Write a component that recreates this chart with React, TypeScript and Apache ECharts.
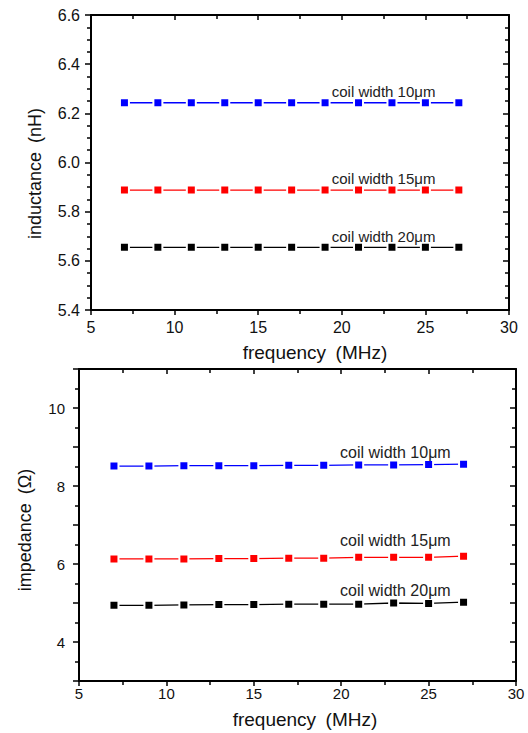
import React, { useEffect, useRef } from "react";
import * as echarts from "echarts";

const freq = [7, 9, 11, 13, 15, 17, 19, 21, 23, 25, 27];

const inductance10 = [6.243, 6.243, 6.243, 6.243, 6.243, 6.243, 6.243, 6.243, 6.243, 6.243, 6.243];
const inductance15 = [5.888, 5.888, 5.888, 5.888, 5.888, 5.888, 5.888, 5.888, 5.888, 5.888, 5.888];
const inductance20 = [5.655, 5.655, 5.655, 5.655, 5.655, 5.655, 5.655, 5.655, 5.655, 5.655, 5.655];

const impedance10 = [8.51, 8.51, 8.52, 8.52, 8.52, 8.53, 8.53, 8.54, 8.54, 8.55, 8.56];
const impedance15 = [6.13, 6.13, 6.13, 6.14, 6.14, 6.15, 6.15, 6.17, 6.17, 6.17, 6.2];
const impedance20 = [4.94, 4.94, 4.95, 4.96, 4.96, 4.97, 4.97, 4.97, 5.0, 4.99, 5.02];

const seriesNames = ["coil width 10\u03bcm", "coil width 15\u03bcm", "coil width 20\u03bcm"];
const seriesColors = ["#0000ff", "#ff0000", "#000000"];

// annotation anchors in data space
const topLabelAt = [
  [22.5, 6.288],
  [22.5, 5.936],
  [22.5, 5.701],
];
const bottomLabelAt = [
  [23.1, 8.85],
  [23.1, 6.61],
  [23.1, 5.32],
];

const FONT = "'Liberation Sans', Arial, sans-serif";

function xAxes(gridIndex: number, labelSize: number, labelMargin: number, nameGap: number, namePad: number) {
  const common = {
    gridIndex,
    type: "value",
    min: 5,
    max: 30,
    interval: 5,
    splitLine: { show: false },
    axisLine: { show: true, onZero: false, lineStyle: { color: "#000", width: 2 } },
    minorTick: { show: true, splitNumber: 2, length: 4, lineStyle: { color: "#000", width: 1.5 } },
  };
  return [
    {
      ...common,
      position: "bottom",
      name: "frequency\u2002(MHz)",
      nameLocation: "middle",
      nameGap,
      nameTextStyle: { fontFamily: FONT, fontSize: 19, color: "#111", padding: [0, 0, 0, namePad] },
      axisTick: { show: true, inside: false, length: 5, lineStyle: { color: "#000", width: 1.5 } },
      axisLabel: { show: true, fontFamily: FONT, fontSize: labelSize, color: "#111", margin: labelMargin },
    },
    {
      ...common,
      position: "top",
      axisTick: { show: true, inside: true, length: 5, lineStyle: { color: "#000", width: 1.5 } },
      axisLabel: { show: false },
    },
  ];
}

function yAxes(
  gridIndex: number,
  min: number,
  max: number,
  interval: number,
  splitNumber: number,
  name: string,
  nameGap: number,
  namePad: number,
  labelSize: number,
  labelMargin: number,
  formatter: (v: number) => string
) {
  const common = {
    gridIndex,
    type: "value",
    min,
    max,
    interval,
    splitLine: { show: false },
    axisLine: { show: true, onZero: false, lineStyle: { color: "#000", width: 2 } },
    minorTick: { show: true, splitNumber, length: 4, lineStyle: { color: "#000", width: 1.5 } },
  };
  return [
    {
      ...common,
      position: "left",
      name,
      nameLocation: "middle",
      nameGap,
      nameTextStyle: { fontFamily: FONT, fontSize: 18, color: "#111", padding: [0, namePad, 0, 0] },
      axisTick: { show: true, inside: false, length: 6, lineStyle: { color: "#000", width: 1.5 } },
      axisLabel: { show: true, fontFamily: FONT, fontSize: labelSize, color: "#111", margin: labelMargin, formatter },
    },
    {
      ...common,
      position: "right",
      axisTick: { show: true, inside: true, length: 6, lineStyle: { color: "#000", width: 1.5 } },
      axisLabel: { show: false },
    },
  ];
}

function makeSeries(
  values: number[],
  idx: number,
  xAxisIndex: number,
  yAxisIndex: number,
  labelAt: number[],
  labelSize: number
) {
  return {
    type: "line",
    name: seriesNames[idx],
    xAxisIndex,
    yAxisIndex,
    data: freq.map((f, i) => [f, values[i]]),
    symbol: "rect",
    symbolSize: 9,
    showAllSymbol: true,
    lineStyle: { color: seriesColors[idx], width: 1.3 },
    itemStyle: { color: seriesColors[idx], borderColor: "#ffffff", borderWidth: 2 },
    markPoint: {
      silent: true,
      symbol: "circle",
      symbolSize: 1,
      itemStyle: { color: "rgba(0,0,0,0)" },
      label: {
        show: true,
        position: "inside",
        formatter: "{b}",
        fontFamily: FONT,
        fontSize: labelSize,
        color: "#222",
      },
      data: [{ name: seriesNames[idx], coord: labelAt }],
    },
  };
}

export default function App() {
  const ref = useRef<HTMLDivElement>(null);
  useEffect(() => {
    if (!ref.current) return;
    const chart = echarts.init(ref.current, null, { renderer: "svg" });
    const option = {
      animation: false,
      backgroundColor: "#ffffff",
      grid: [
        { left: 91, top: 15, width: 418, height: 295 },
        { left: 79, top: 369, width: 437, height: 312 },
      ],
      xAxis: [...xAxes(0, 16, 9, 33, 30), ...xAxes(1, 15, 5, 29, 15)],
      yAxis: [
        ...yAxes(0, 5.4, 6.6, 0.2, 4, "inductance\u2002(nH)", 47, 22, 16, 11, (v: number) => v.toFixed(1)),
        ...yAxes(1, 3, 11, 1, 2, "impedance\u2002(\u03a9)", 45, 10, 15, 14, (v: number) =>
          Math.round(v) % 2 === 0 && v > 3 && v < 11 ? String(Math.round(v)) : ""
        ),
      ],
      series: [
        makeSeries(inductance10, 0, 0, 0, topLabelAt[0], 15),
        makeSeries(inductance15, 1, 0, 0, topLabelAt[1], 15),
        makeSeries(inductance20, 2, 0, 0, topLabelAt[2], 15),
        makeSeries(impedance10, 0, 2, 2, bottomLabelAt[0], 16),
        makeSeries(impedance15, 1, 2, 2, bottomLabelAt[1], 16),
        makeSeries(impedance20, 2, 2, 2, bottomLabelAt[2], 16),
      ],
    };
    chart.setOption(option as any);
    return () => chart.dispose();
  }, []);
  return (
    <div
      ref={ref}
      style={{ position: "fixed", left: 0, top: 0, width: 528, height: 733, background: "#fff" }}
    />
  );
}
